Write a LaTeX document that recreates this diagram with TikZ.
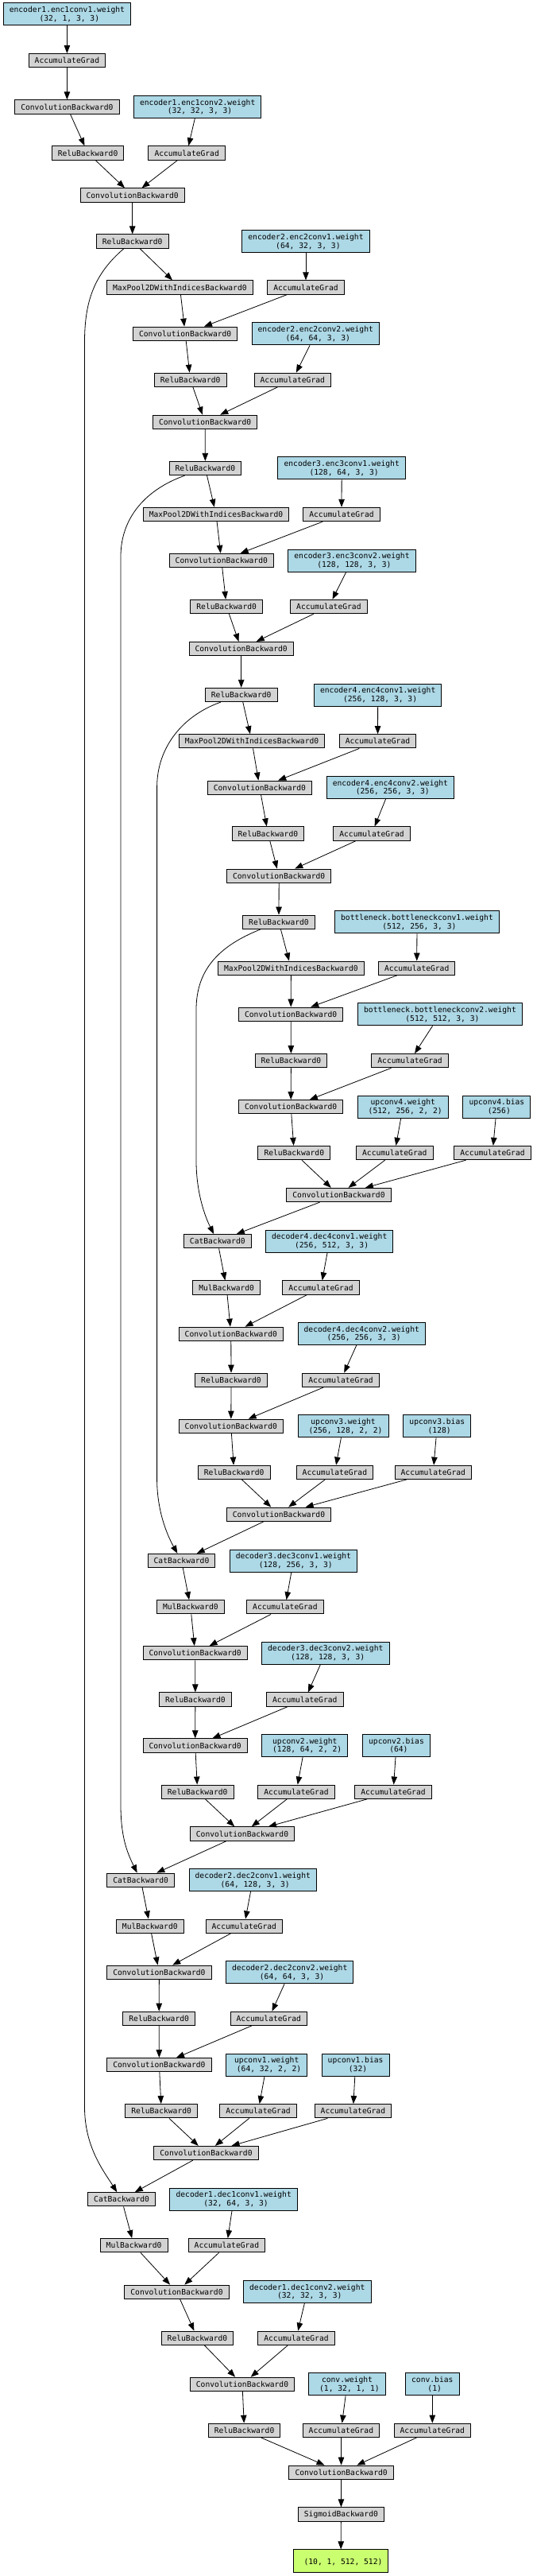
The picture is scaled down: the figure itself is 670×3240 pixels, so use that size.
\documentclass[tikz,border=0pt]{standalone}
\usepackage{fontspec}
\setmonofont{DejaVu Sans Mono}
\usetikzlibrary{arrows.meta}
\definecolor{opgray}{HTML}{D3D3D3}
\definecolor{parblue}{HTML}{ADD8E6}
\definecolor{resgreen}{HTML}{CAFF70}
\begin{document}
\begin{tikzpicture}[x=1pt, y=-1pt,
    op/.style={draw, line width=1pt, fill=opgray, align=center,
        font=\ttfamily\fontsize{9.65}{10.7}\selectfont,
        inner xsep=7.6pt, inner ysep=0pt, minimum height=17.3pt},
    par/.style={op, fill=parblue, minimum height=28pt},
    res/.style={op, fill=resgreen, minimum height=28.7pt},
    edge/.style={-{Triangle[length=10pt,width=7.5pt]}, line width=0.8pt}]
            \useasboundingbox (0,0) rectangle (670,3240);
            \node[par] (W1) at (84.4,17.8) {encoder1.enc1conv1.weight\\\hphantom{0}(32, 1, 3, 3)};
            \node[op] (AG1) at (84.4,76.2) {AccumulateGrad};
            \node[op] (C1a) at (84.4,134.5) {ConvolutionBackward0};
            \node[par] (W2) at (248.7,134.5) {encoder1.enc1conv2.weight\\\hphantom{0}(32, 32, 3, 3)};
            \node[op] (R1a) at (110.6,192.5) {ReluBackward0};
            \node[op] (AG2) at (235.2,192.5) {AccumulateGrad};
            \node[op] (C1b) at (166.7,245.5) {ConvolutionBackward0};
            \node[op] (R1b) at (166.7,303.5) {ReluBackward0};
            \node[par] (W3) at (385,303.8) {encoder2.enc2conv1.weight\\\hphantom{0}(64, 32, 3, 3)};
            \node[op] (P1) at (226.4,361.5) {MaxPool2DWithIndicesBackward0};
            \node[op] (AG3) at (385,361.5) {AccumulateGrad};
            \node[op] (C2a) at (233.2,419.8) {ConvolutionBackward0};
            \node[par] (W4) at (397.3,419.8) {encoder2.enc2conv2.weight\\\hphantom{0}(64, 64, 3, 3)};
            \node[op] (R2a) at (239.7,477.8) {ReluBackward0};
            \node[op] (AG4) at (368.3,477.8) {AccumulateGrad};
            \node[op] (C2b) at (258.2,530.8) {ConvolutionBackward0};
            \node[op] (R2b) at (258.4,589) {ReluBackward0};
            \node[par] (W5) at (430.2,588.8) {encoder3.enc3conv1.weight\\\hphantom{0}(128, 64, 3, 3)};
            \node[op] (P2) at (272,647) {MaxPool2DWithIndicesBackward0};
            \node[op] (AG5) at (430,647) {AccumulateGrad};
            \node[op] (C3a) at (278.8,705) {ConvolutionBackward0};
            \node[par] (W6) at (443,705) {encoder3.enc3conv2.weight\\\hphantom{0}(128, 128, 3, 3)};
            \node[op] (R3a) at (285.2,763) {ReluBackward0};
            \node[op] (AG6) at (413.9,763) {AccumulateGrad};
            \node[op] (C3b) at (303.7,816) {ConvolutionBackward0};
            \node[op] (R3b) at (303.7,874) {ReluBackward0};
            \node[par] (W7) at (475.7,874) {encoder4.enc4conv1.weight\\\hphantom{0}(256, 128, 3, 3)};
            \node[op] (P3) at (317,932.3) {MaxPool2DWithIndicesBackward0};
            \node[op] (AG7) at (475.5,932.3) {AccumulateGrad};
            \node[op] (C4a) at (326.9,990.7) {ConvolutionBackward0};
            \node[par] (W8) at (491.4,990.5) {encoder4.enc4conv2.weight\\\hphantom{0}(256, 256, 3, 3)};
            \node[op] (R4a) at (337.4,1048.5) {ReluBackward0};
            \node[op] (AG8) at (468,1048.5) {AccumulateGrad};
            \node[op] (C4b) at (351.2,1101.7) {ConvolutionBackward0};
            \node[op] (R4b) at (351,1159.7) {ReluBackward0};
            \node[par] (W9) at (525,1159.8) {bottleneck.bottleneckconv1.weight\\\hphantom{0}(512, 256, 3, 3)};
            \node[op] (P4) at (366.4,1217.7) {MaxPool2DWithIndicesBackward0};
            \node[op] (AG9) at (524.7,1217.7) {AccumulateGrad};
            \node[op] (C5a) at (366.2,1275.7) {ConvolutionBackward0};
            \node[par] (W10) at (554,1275.8) {bottleneck.bottleneckconv2.weight\\\hphantom{0}(512, 512, 3, 3)};
            \node[op] (R5a) at (366.4,1334.2) {ReluBackward0};
            \node[op] (AG10) at (516.1,1334.2) {AccumulateGrad};
            \node[op] (C5b) at (366.2,1392.2) {ConvolutionBackward0};
            \node[par] (W11) at (507.3,1392.2) {upconv4.weight\\\hphantom{0}(512, 256, 2, 2)};
            \node[par] (B11) at (625.4,1392.2) {upconv4.bias\\\hphantom{0}(256)};
            \node[op] (R5b) at (370.3,1450) {ReluBackward0};
            \node[op] (AG11) at (496.8,1450) {AccumulateGrad};
            \node[op] (AG12) at (620,1450) {AccumulateGrad};
            \node[op] (U4) at (426.5,1503) {ConvolutionBackward0};
            \node[op] (Cat4) at (273.8,1561.2) {CatBackward0};
            \node[par] (W12) at (414.7,1561.2) {decoder4.dec4conv1.weight\\\hphantom{0}(256, 512, 3, 3)};
            \node[op] (M4) at (285.2,1619.5) {MulBackward0};
            \node[op] (AG13) at (404,1619.5) {AccumulateGrad};
            \node[op] (C6a) at (290.8,1677.8) {ConvolutionBackward0};
            \node[par] (W13) at (455.3,1677.5) {decoder4.dec4conv2.weight\\\hphantom{0}(256, 256, 3, 3)};
            \node[op] (R6a) at (291,1735.8) {ReluBackward0};
            \node[op] (AG14) at (429.1,1735.8) {AccumulateGrad};
            \node[op] (C6b) at (290.8,1793.8) {ConvolutionBackward0};
            \node[par] (W14) at (432.1,1793.8) {upconv3.weight\\\hphantom{0}(256, 128, 2, 2)};
            \node[par] (B14) at (550.3,1793.8) {upconv3.bias\\\hphantom{0}(128)};
            \node[op] (R6b) at (294.7,1851.8) {ReluBackward0};
            \node[op] (AG15) at (421.4,1851.8) {AccumulateGrad};
            \node[op] (AG16) at (545.3,1851.8) {AccumulateGrad};
            \node[op] (U3) at (351,1904.7) {ConvolutionBackward0};
            \node[op] (Cat3) at (228.5,1963) {CatBackward0};
            \node[par] (W15) at (369.4,1963.2) {decoder3.dec3conv1.weight\\\hphantom{0}(128, 256, 3, 3)};
            \node[op] (M3) at (239.9,2021.3) {MulBackward0};
            \node[op] (AG17) at (358.9,2021.3) {AccumulateGrad};
            \node[op] (C7a) at (245.7,2079.2) {ConvolutionBackward0};
            \node[par] (W16) at (409.8,2079.2) {decoder3.dec3conv2.weight\\\hphantom{0}(128, 128, 3, 3)};
            \node[op] (R7a) at (245.9,2137.5) {ReluBackward0};
            \node[op] (AG18) at (383.8,2137.5) {AccumulateGrad};
            \node[op] (C7b) at (245.7,2195.5) {ConvolutionBackward0};
            \node[par] (W17) at (383.8,2195.5) {upconv2.weight\\\hphantom{0}(128, 64, 2, 2)};
            \node[par] (B17) at (499,2195.5) {upconv2.bias\\\hphantom{0}(64)};
            \node[op] (R7b) at (248.7,2253.7) {ReluBackward0};
            \node[op] (AG19) at (373,2253.7) {AccumulateGrad};
            \node[op] (AG20) at (495,2253.7) {AccumulateGrad};
            \node[op] (U2) at (305,2306.5) {ConvolutionBackward0};
            \node[op] (Cat2) at (177.2,2364.7) {CatBackward0};
            \node[par] (W18) at (318.3,2364.7) {decoder2.dec2conv1.weight\\\hphantom{0}(64, 128, 3, 3)};
            \node[op] (M2) at (188.8,2422.7) {MulBackward0};
            \node[op] (AG21) at (307.3,2422.7) {AccumulateGrad};
            \node[op] (C8a) at (200.4,2480.7) {ConvolutionBackward0};
            \node[par] (W19) at (364.7,2480.8) {decoder2.dec2conv2.weight\\\hphantom{0}(64, 64, 3, 3)};
            \node[op] (R8a) at (200.2,2538.8) {ReluBackward0};
            \node[op] (AG22) at (338.3,2538.8) {AccumulateGrad};
            \node[op] (C8b) at (200.4,2597.2) {ConvolutionBackward0};
            \node[par] (W20) at (335.7,2597) {upconv1.weight\\\hphantom{0}(64, 32, 2, 2)};
            \node[par] (B20) at (447.6,2597) {upconv1.bias\\\hphantom{0}(32)};
            \node[op] (R8b) at (203.2,2655.2) {ReluBackward0};
            \node[op] (AG23) at (325,2655.2) {AccumulateGrad};
            \node[op] (AG24) at (444.4,2655.2) {AccumulateGrad};
            \node[op] (U1) at (259.5,2708) {ConvolutionBackward0};
            \node[op] (Cat1) at (153.1,2766.3) {CatBackward0};
            \node[par] (W21) at (294.2,2766.2) {decoder1.dec1conv1.weight\\\hphantom{0}(32, 64, 3, 3)};
            \node[op] (M1) at (168.6,2824.2) {MulBackward0};
            \node[op] (AG25) at (285.4,2824.2) {AccumulateGrad};
            \node[op] (C9a) at (222.5,2882.7) {ConvolutionBackward0};
            \node[par] (W22) at (386.8,2882.5) {decoder1.dec1conv2.weight\\\hphantom{0}(32, 32, 3, 3)};
            \node[op] (R9a) at (248.5,2940.7) {ReluBackward0};
            \node[op] (AG26) at (373,2940.7) {AccumulateGrad};
            \node[op] (C9b) at (305,2998.8) {ConvolutionBackward0};
            \node[par] (W23) at (437,2998.8) {conv.weight\\\hphantom{0}(1, 32, 1, 1)};
            \node[par] (B23) at (544.3,2998.8) {conv.bias\\\hphantom{0}(1)};
            \node[op] (R9b) at (307.6,3056.8) {ReluBackward0};
            \node[op] (AG27) at (429.4,3056.8) {AccumulateGrad};
            \node[op] (AG28) at (544.3,3056.8) {AccumulateGrad};
            \node[op] (CF) at (429.6,3109.7) {ConvolutionBackward0};
            \node[op] (Sig) at (429.4,3162.5) {SigmoidBackward0};
            \node[res] (Out) at (429.1,3221.2) {\mbox{}\\\hphantom{0}(10, 1, 512, 512)};
            % encoder
            \draw[edge] (W1) -- (AG1);
            \draw[edge] (AG1) -- (C1a);
            \draw[edge] (C1a) -- (R1a);
            \draw[edge] (W2) -- (AG2);
            \draw[edge] (R1a) -- (C1b);
            \draw[edge] (AG2) -- (C1b);
            \draw[edge] (C1b) -- (R1b);
            \draw[edge] (R1b) -- (P1);
            \draw[edge] (W3) -- (AG3);
            \draw[edge] (P1) -- (C2a);
            \draw[edge] (AG3) -- (C2a);
            \draw[edge] (C2a) -- (R2a);
            \draw[edge] (W4) -- (AG4);
            \draw[edge] (R2a) -- (C2b);
            \draw[edge] (AG4) -- (C2b);
            \draw[edge] (C2b) -- (R2b);
            \draw[edge] (R2b) -- (P2);
            \draw[edge] (W5) -- (AG5);
            \draw[edge] (P2) -- (C3a);
            \draw[edge] (AG5) -- (C3a);
            \draw[edge] (C3a) -- (R3a);
            \draw[edge] (W6) -- (AG6);
            \draw[edge] (R3a) -- (C3b);
            \draw[edge] (AG6) -- (C3b);
            \draw[edge] (C3b) -- (R3b);
            \draw[edge] (R3b) -- (P3);
            \draw[edge] (W7) -- (AG7);
            \draw[edge] (P3) -- (C4a);
            \draw[edge] (AG7) -- (C4a);
            \draw[edge] (C4a) -- (R4a);
            \draw[edge] (W8) -- (AG8);
            \draw[edge] (R4a) -- (C4b);
            \draw[edge] (AG8) -- (C4b);
            \draw[edge] (C4b) -- (R4b);
            \draw[edge] (R4b) -- (P4);
            % bottleneck
            \draw[edge] (W9) -- (AG9);
            \draw[edge] (P4) -- (C5a);
            \draw[edge] (AG9) -- (C5a);
            \draw[edge] (C5a) -- (R5a);
            \draw[edge] (W10) -- (AG10);
            \draw[edge] (R5a) -- (C5b);
            \draw[edge] (AG10) -- (C5b);
            \draw[edge] (C5b) -- (R5b);
            \draw[edge] (W11) -- (AG11);
            \draw[edge] (B11) -- (AG12);
            \draw[edge] (R5b) -- (U4);
            \draw[edge] (AG11) -- (U4);
            \draw[edge] (AG12) -- (U4);
            % decoder
            \draw[edge] (U4) -- (Cat4);
            \draw[edge] (Cat4) -- (M4);
            \draw[edge] (W12) -- (AG13);
            \draw[edge] (M4) -- (C6a);
            \draw[edge] (AG13) -- (C6a);
            \draw[edge] (C6a) -- (R6a);
            \draw[edge] (W13) -- (AG14);
            \draw[edge] (R6a) -- (C6b);
            \draw[edge] (AG14) -- (C6b);
            \draw[edge] (C6b) -- (R6b);
            \draw[edge] (W14) -- (AG15);
            \draw[edge] (B14) -- (AG16);
            \draw[edge] (R6b) -- (U3);
            \draw[edge] (AG15) -- (U3);
            \draw[edge] (AG16) -- (U3);
            \draw[edge] (U3) -- (Cat3);
            \draw[edge] (Cat3) -- (M3);
            \draw[edge] (W15) -- (AG17);
            \draw[edge] (M3) -- (C7a);
            \draw[edge] (AG17) -- (C7a);
            \draw[edge] (C7a) -- (R7a);
            \draw[edge] (W16) -- (AG18);
            \draw[edge] (R7a) -- (C7b);
            \draw[edge] (AG18) -- (C7b);
            \draw[edge] (C7b) -- (R7b);
            \draw[edge] (W17) -- (AG19);
            \draw[edge] (B17) -- (AG20);
            \draw[edge] (R7b) -- (U2);
            \draw[edge] (AG19) -- (U2);
            \draw[edge] (AG20) -- (U2);
            \draw[edge] (U2) -- (Cat2);
            \draw[edge] (Cat2) -- (M2);
            \draw[edge] (W18) -- (AG21);
            \draw[edge] (M2) -- (C8a);
            \draw[edge] (AG21) -- (C8a);
            \draw[edge] (C8a) -- (R8a);
            \draw[edge] (W19) -- (AG22);
            \draw[edge] (R8a) -- (C8b);
            \draw[edge] (AG22) -- (C8b);
            \draw[edge] (C8b) -- (R8b);
            \draw[edge] (W20) -- (AG23);
            \draw[edge] (B20) -- (AG24);
            \draw[edge] (R8b) -- (U1);
            \draw[edge] (AG23) -- (U1);
            \draw[edge] (AG24) -- (U1);
            \draw[edge] (U1) -- (Cat1);
            \draw[edge] (Cat1) -- (M1);
            \draw[edge] (W21) -- (AG25);
            \draw[edge] (M1) -- (C9a);
            \draw[edge] (AG25) -- (C9a);
            \draw[edge] (C9a) -- (R9a);
            \draw[edge] (W22) -- (AG26);
            \draw[edge] (R9a) -- (C9b);
            \draw[edge] (AG26) -- (C9b);
            \draw[edge] (C9b) -- (R9b);
            \draw[edge] (W23) -- (AG27);
            \draw[edge] (B23) -- (AG28);
            \draw[edge] (R9b) -- (CF);
            \draw[edge] (AG27) -- (CF);
            \draw[edge] (AG28) -- (CF);
            \draw[edge] (CF) -- (Sig);
            \draw[edge] (Sig) -- (Out);
            % skip connections
            \draw[edge] (R1b) .. controls (118,345) and (106.5,380) .. (106.5,430) -- (106.5,2650) .. controls (106.5,2700) and (130,2730) .. (Cat1);
            \draw[edge] (R2b) .. controls (185,615) and (152,650) .. (152,700) -- (152,2270) .. controls (152,2310) and (160,2330) .. (Cat2);
            \draw[edge] (R3b) .. controls (230,900) and (197.6,940) .. (197.6,990) -- (197.6,1860) .. controls (197.6,1900) and (210,1930) .. (Cat3);
            \draw[edge] (R4b) .. controls (275,1190) and (247,1220) .. (247,1270) -- (247,1460) .. controls (247,1500) and (258,1530) .. (Cat4);
        \end{tikzpicture}
\end{document}
